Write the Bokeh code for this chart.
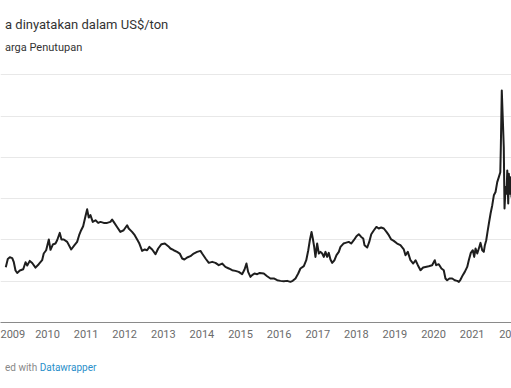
import pandas as pd
from bokeh.plotting import figure
from bokeh.models import Range1d, FixedTicker, DatetimeTickFormatter, Div
from bokeh.layouts import column
from bokeh.embed import file_html
from bokeh.resources import INLINE

title_text = "a dinyatakan dalam US$/ton"
legend_text = "arga Penutupan"
footer_prefix = "ed with"
footer_link = "Datawrapper"
tick_years = list(range(2009, 2023))
edge_tick_label = "20"   # the last year label is cut by the right edge in the source
grid_values = [50, 100, 150, 200, 250, 300]

dates = [
    "2008-12-02", "2008-12-21", "2009-01-09", "2009-02-01", "2009-02-16", "2009-03-04",
    "2009-03-20", "2009-04-14", "2009-05-16", "2009-06-07", "2009-06-23", "2009-07-17",
    "2009-08-09", "2009-09-09", "2009-10-10", "2009-11-11", "2009-11-26", "2009-12-19",
    "2010-01-13", "2010-01-29", "2010-02-20", "2010-03-17", "2010-04-02", "2010-04-27",
    "2010-05-13", "2010-06-04", "2010-07-06", "2010-08-13", "2010-09-13", "2010-10-08",
    "2010-10-27", "2010-11-15", "2010-12-04", "2010-12-26", "2011-01-11", "2011-01-26",
    "2011-02-11", "2011-03-05", "2011-03-31", "2011-04-25", "2011-05-17", "2011-06-17",
    "2011-07-19", "2011-08-19", "2011-09-04", "2011-09-19", "2011-10-21", "2011-11-21",
    "2011-12-22", "2012-01-24", "2012-02-08", "2012-03-11", "2012-04-05", "2012-04-28",
    "2012-05-19", "2012-06-14", "2012-07-09", "2012-07-31", "2012-08-22", "2012-09-17",
    "2012-10-18", "2012-11-13", "2012-12-14", "2013-01-15", "2013-02-16", "2013-03-09",
    "2013-04-09", "2013-05-11", "2013-06-05", "2013-06-28", "2013-07-19", "2013-08-14",
    "2013-09-14", "2013-10-15", "2013-11-16", "2013-12-18", "2014-01-03", "2014-02-04",
    "2014-03-07", "2014-04-08", "2014-05-09", "2014-06-09", "2014-07-11", "2014-08-11",
    "2014-09-12", "2014-10-14", "2014-11-14", "2014-12-15", "2015-01-16", "2015-02-08",
    "2015-02-26", "2015-03-14", "2015-04-05", "2015-04-21", "2015-05-13", "2015-06-08",
    "2015-07-02", "2015-08-09", "2015-09-10", "2015-10-11", "2015-11-12", "2015-12-14",
    "2016-01-14", "2016-02-14", "2016-03-17", "2016-04-17", "2016-05-09", "2016-06-04",
    "2016-06-30", "2016-07-21", "2016-08-22", "2016-09-14", "2016-10-03", "2016-10-18",
    "2016-11-03", "2016-11-15", "2016-11-28", "2016-12-10", "2016-12-26", "2017-01-11",
    "2017-01-27", "2017-02-12", "2017-02-27", "2017-03-15", "2017-03-31", "2017-04-15",
    "2017-05-01", "2017-05-17", "2017-06-08", "2017-06-27", "2017-07-19", "2017-08-04",
    "2017-09-01", "2017-09-20", "2017-10-21", "2017-11-13", "2017-12-08", "2018-01-02",
    "2018-01-24", "2018-02-16", "2018-03-07", "2018-03-19", "2018-04-14", "2018-05-03",
    "2018-05-22", "2018-06-16", "2018-07-10", "2018-08-01", "2018-08-24", "2018-09-18",
    "2018-10-13", "2018-11-04", "2018-11-27", "2018-12-21", "2019-01-22", "2019-02-22",
    "2019-03-26", "2019-04-11", "2019-05-03", "2019-05-28", "2019-06-23", "2019-07-15",
    "2019-08-06", "2019-08-31", "2019-09-25", "2019-10-17", "2019-11-17", "2019-12-19",
    "2020-01-13", "2020-01-26", "2020-02-20", "2020-03-16", "2020-04-07", "2020-04-23",
    "2020-05-09", "2020-05-31", "2020-06-26", "2020-07-20", "2020-08-12", "2020-08-28",
    "2020-09-13", "2020-10-04", "2020-10-23", "2020-11-15", "2020-11-30", "2020-12-19",
    "2021-01-07", "2021-01-20", "2021-02-02", "2021-02-18", "2021-03-05", "2021-03-21",
    "2021-04-06", "2021-04-21", "2021-05-01", "2021-05-14", "2021-05-26", "2021-06-08",
    "2021-06-24", "2021-07-10", "2021-07-25", "2021-08-10", "2021-08-26", "2021-09-10",
    "2021-09-24", "2021-09-29", "2021-10-08", "2021-10-18", "2021-10-27", "2021-11-03",
    "2021-11-13", "2021-11-22", "2021-11-29", "2021-12-08", "2021-12-14", "2021-12-23",
    "2022-01-01", "2022-01-08", "2022-01-15",
]

prices = [
    67, 77, 79, 78, 73, 63,
    60, 63, 64.5, 73, 69, 74.6,
    72, 66.5, 70.6, 75.4, 83.5, 87.5,
    100.5, 88, 94.4, 95.6, 99.6, 108.5,
    100.5, 100.5, 97.6, 88.4, 93.6, 97.6,
    105.7, 111.7, 116.6, 128.7, 137, 127,
    130, 121.8, 123.8, 120.6, 121.8, 120.6,
    120.6, 121.8, 124.7, 121.8, 115.7, 109.7,
    111.7, 117.8, 113.8, 109.7, 105.7, 100.5,
    95.6, 86.7, 88.4, 87.5, 91.5, 88.4,
    82.7, 89.6, 94.8, 95.6, 92.4, 89.6,
    87.5, 85.5, 83.5, 77.5, 76.3, 78.7,
    80.3, 83.5, 85.5, 86.7, 83.5, 77.5,
    72.2, 73.4, 72.2, 69.4, 71.4, 67.3,
    65.4, 63.3, 62.5, 61.3, 58.5, 64.2,
    71.4, 61.3, 55.2, 57.3, 59.3, 58.5,
    60, 59.3, 56, 53.3, 53.3, 51.2,
    50.4, 50, 50.4, 49.2, 50.4, 53.3,
    59.3, 65.4, 68.2, 75.4, 87.5, 99.6,
    109.7, 101.7, 91.5, 79.4, 95.6, 83.5,
    85.5, 83.5, 79.4, 85.5, 79.4, 84.3,
    76.3, 72.2, 75.4, 81.5, 85.5, 91.5,
    95.6, 96.4, 97.6, 95.6, 99.6, 104.5,
    106.9, 103.6, 101.7, 93.6, 90.8, 97.6,
    106.9, 111.7, 115.7, 113.8, 115, 113.8,
    109.7, 105.7, 100.5, 98.8, 95.6, 93.6,
    88.4, 81.5, 85.5, 75.4, 71.4, 75.4,
    69.4, 63.3, 66.6, 67.3, 68.2, 69.4,
    75.4, 69.4, 70.6, 65.4, 63.3, 53.3,
    51.2, 53.3, 53.3, 51.2, 50.4, 49.2,
    52, 57.3, 61.3, 67.3, 75.4, 84.3,
    87.5, 79.4, 89.6, 83.5, 89.6, 96.4,
    87.5, 85.5, 93.6, 99.6, 109.7, 119.9,
    132, 142, 154, 158, 170, 176,
    182, 212, 281, 245, 212, 138,
    164, 156, 184, 144, 180, 156,
    176, 152, 165,
]

x = pd.to_datetime(dates)
x_start = pd.Timestamp("2008-10-13")
x_end = pd.Timestamp("2022-01-08")


def ms(ts):
    return ts.value / 1e6


p = figure(
    width=511, height=286,
    title=None,
    x_axis_type="datetime",
    x_range=Range1d(x_start, x_end),
    y_range=Range1d(0, 317.2),
    output_backend="svg",
    toolbar_location=None,
    min_border_left=0, min_border_right=0,
    min_border_top=0, min_border_bottom=24,
    outline_line_color=None,
    background_fill_color="white",
    border_fill_color="white",
)

p.yaxis.visible = False
p.xgrid.visible = False
p.ygrid.ticker = FixedTicker(ticks=grid_values)
p.ygrid.grid_line_color = "#e8e8e8"
p.ygrid.grid_line_width = 1

tick_ms = [ms(pd.Timestamp(f"{y}-01-01")) for y in tick_years]
xa = p.xaxis[0]
xa.ticker = FixedTicker(ticks=tick_ms)
xa.formatter = DatetimeTickFormatter(years="%Y", months="%Y", days="%Y",
                                     hours="%Y", minutes="%Y", seconds="%Y")
xa.major_label_overrides = {tick_ms[-1]: edge_tick_label}
xa.axis_line_color = "#8a8a8a"
xa.axis_line_width = 1
xa.major_tick_in = 0
xa.major_tick_out = 0
xa.minor_tick_in = 0
xa.minor_tick_out = 0
xa.major_label_standoff = 7
xa.major_label_text_font = "Roboto"
xa.major_label_text_font_size = "11px"
xa.major_label_text_color = "#6b6b6b"

p.line(x, prices, line_color="#1e1e1e", line_width=2, line_join="round")

header = Div(
    text=(
        '<div style="font-family:Roboto;font-size:13px;line-height:16px;color:#333333;'
        f'padding-top:12px;white-space:nowrap;">{title_text}</div>'
        '<div style="font-family:Roboto;font-size:11px;line-height:13px;color:#333333;'
        f'padding-top:8px;white-space:nowrap;">{legend_text}</div>'
    ),
    width=511, height=50,
)

footer = Div(
    text=(
        '<div style="font-family:Roboto;font-size:10px;line-height:13px;color:#888888;'
        f'padding-top:10px;white-space:nowrap;">{footer_prefix} '
        f'<span style="color:#2a8fca;">{footer_link}</span></div>'
    ),
    width=511, height=30,
)

layout = column(header, p, footer, spacing=0, width=511,
                styles={"overflow": "hidden"})

open("out.html", "w").write(file_html(layout, INLINE))
